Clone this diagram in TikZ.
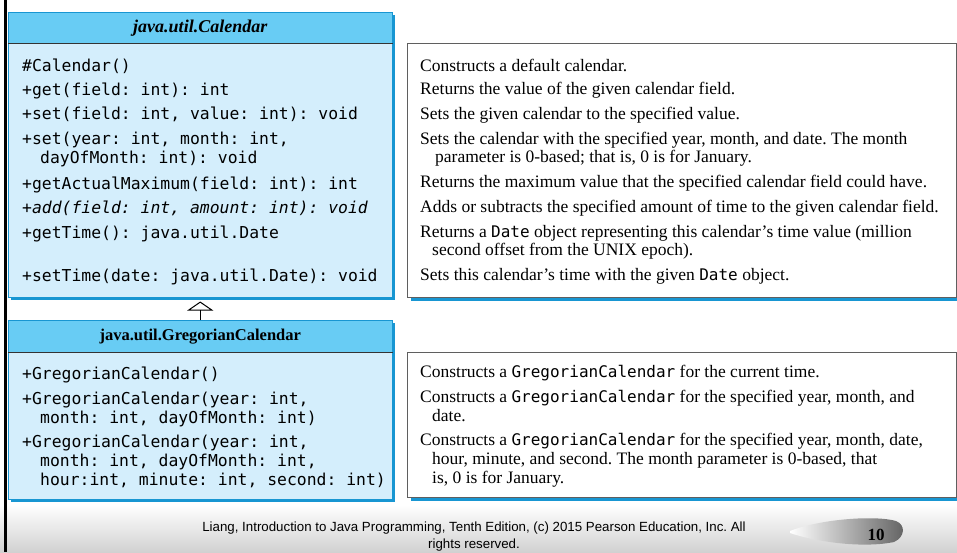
\documentclass[tikz,border=0pt]{standalone}
\usepackage{fontspec}
\setmainfont{Liberation Serif}
\newfontfamily\codefont{DejaVu Sans Mono}
\newfontfamily\footfont{Liberation Sans}
\usetikzlibrary{arrows.meta,shadows}
\frenchspacing

\definecolor{headblue}{RGB}{104,204,244}
\definecolor{bodyblue}{RGB}{212,238,252}
\definecolor{shadeblue}{RGB}{24,150,210}
\definecolor{descgray}{RGB}{95,95,95}

\newcommand{\jcode}[1]{{\codefont\fontsize{16}{18}\selectfont #1}}

\tikzset{
	blueshadow/.style={drop shadow={shadow xshift=3pt,shadow yshift=-3pt,fill=shadeblue,opacity=1}},
	headbox/.style={blueshadow,fill=headblue,draw=shadeblue,line width=0.5pt,anchor=north west,
		minimum width=384pt,inner sep=0pt},
	bodybox/.style={blueshadow,fill=bodyblue,draw=shadeblue,line width=0.5pt,anchor=north west,
		minimum width=384pt,inner sep=0pt},
	descbox/.style={blueshadow,fill=white,draw=descgray,line width=1.2pt,anchor=north west,
		minimum width=549pt,inner sep=0pt},
	sepline/.style={draw=black!80,line width=1pt},
	codeline/.style={anchor=base west,inner sep=0pt,font=\codefont\fontsize{16.4}{19}\selectfont},
	descline/.style={anchor=base west,inner sep=0pt,font=\fontsize{17.5}{20}\selectfont},
	footline/.style={inner sep=0pt,font=\footfont\fontsize{13.3}{15}\selectfont},
	inherit/.style={line width=1pt,-{Triangle[open,width=26pt,length=9pt]}}
}

\begin{document}
\begin{tikzpicture}[x=1pt,y=-1pt]
	\useasboundingbox (0,0) rectangle (957,552);
	
	% slide footer band
	\shade[top color=white,bottom color=black!18] (0,505) rectangle (957,552);
	\draw[line width=3pt] (5,0) -- (5,552);
	
	% java.util.Calendar
	\node[headbox,minimum height=31pt,font=\fontsize{18}{20}\selectfont] (calhead) at (8,12) {\bfseries\itshape java.util.Calendar};
	\node[bodybox,minimum height=254pt] (calbody) at (8,43) {};
	\draw[sepline] (calbody.north west) -- (calbody.north east);
	
	\node[codeline] (c1) at (22,71) {\#Calendar()};
	\node[codeline] (c2) at (22,95) {+get(field: int): int};
	\node[codeline] (c3) at (22,119) {+set(field: int, value: int): void};
	\node[codeline] (c4) at (22,144) {+set(year: int, month: int,};
	\node[codeline] (c5) at (40,163) {dayOfMonth: int): void};
	\node[codeline] (c6) at (22,189) {+getActualMaximum(field: int): int};
	\node[codeline] (c7) at (22,213) {+{\itshape add(field: int, amount: int): void}};
	\node[codeline] (c8) at (22,238) {+getTime(): java.util.Date};
	\node[codeline] (c9) at (22,281) {+setTime(date: java.util.Date): void};
	
	% java.util.GregorianCalendar
	\node[headbox,minimum height=32pt,font=\fontsize{16.5}{19}\selectfont] (gchead) at (8,320) {\bfseries java.util.GregorianCalendar};
	\node[bodybox,minimum height=147pt] (gcbody) at (8,352) {};
	\draw[sepline] (gcbody.north west) -- (gcbody.north east);
	
	\node[codeline] (g1) at (22,379) {+GregorianCalendar()};
	\node[codeline] (g2) at (22,404) {+GregorianCalendar(year: int,};
	\node[codeline] (g3) at (40,423) {month: int, dayOfMonth: int)};
	\node[codeline] (g4) at (22,447) {+GregorianCalendar(year: int,};
	\node[codeline] (g5) at (40,466) {month: int, dayOfMonth: int,};
	\node[codeline] (g6) at (40,485) {hour:int, minute: int, second: int)};
	
	\draw[inherit] (gchead.north) -- ([yshift=-4pt]calbody.south);
	
	% descriptions
	\node[descbox,minimum height=254pt] (caldesc) at (407,43) {};
	\node[descline] (d1) at (420,71) {Constructs a default calendar.};
	\node[descline] (d2) at (420,94) {Returns the value of the given calendar field.};
	\node[descline] (d3) at (420,119) {Sets the given calendar to the specified value.};
	\node[descline] (d4) at (420,144) {Sets the calendar with the specified year, month, and date. The month};
	\node[descline] (d5) at (435,162) {parameter is 0-based; that is, 0 is for January.};
	\node[descline] (d6) at (420,187) {Returns the maximum value that the specified calendar field could have.};
	\node[descline] (d7) at (420,212) {Adds or subtracts the specified amount of time to the given calendar field.};
	\node[descline] (d8) at (420,237) {Returns a \jcode{Date} object representing this calendar’s time value (million};
	\node[descline] (d9) at (432,255) {second offset from the UNIX epoch).};
	\node[descline] (d10) at (420,280) {Sets this calendar’s time with the given \jcode{Date} object.};
	
	\node[descbox,minimum height=145pt] (gcdesc) at (407,352) {};
	\node[descline] (e1) at (420,377) {Constructs a \jcode{GregorianCalendar} for the current time.};
	\node[descline] (e2) at (420,402) {Constructs a \jcode{GregorianCalendar} for the specified year, month, and};
	\node[descline] (e3) at (432,421) {date.};
	\node[descline] (e4) at (420,445) {Constructs a \jcode{GregorianCalendar} for the specified year, month, date,};
	\node[descline] (e5) at (432,464) {hour, minute, and second. The month parameter is 0-based, that};
	\node[descline] (e6) at (432,483) {is, 0 is for January.};
	
	% footer
	\node[footline] (foot1) at (474,528) {Liang, Introduction to Java Programming, Tenth Edition, (c) 2015 Pearson Education, Inc. All};
	\node[footline] (foot2) at (474,545) {rights reserved.};
	\shade[left color=white,right color=black!62]
		(790,531) .. controls (820,519) and (875,515) .. (896,521)
		.. controls (906,525) and (905,537) .. (894,542)
		.. controls (865,548) and (820,543) .. (790,533) -- cycle;
	\node[inner sep=0pt,font=\bfseries\fontsize{17}{19}\selectfont] (pagenum) at (876,535) {10};
\end{tikzpicture}
\end{document}
